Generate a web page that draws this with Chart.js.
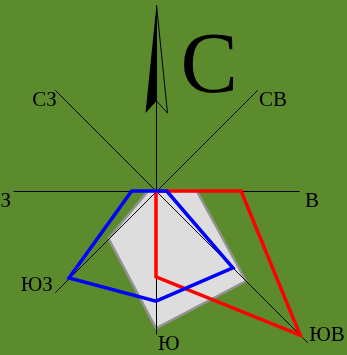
<!DOCTYPE html>
<html>
<head>
<meta charset="utf-8">
<script src="https://cdn.jsdelivr.net/npm/chart.js@4"></script>
<style>
  html, body { margin: 0; padding: 0; background: #5c8b2e; }
  canvas { display: block; }
</style>
</head>
<body>
<canvas id="roseChart" width="347" height="355"></canvas>
<script>
const directions = ["С", "СВ", "В", "ЮВ", "Ю", "ЮЗ", "З", "СЗ"];
const blueValues = [0, 0, 1.5, 15.2, 15.4, 17.2, 3.4, 0];
const redValues = [0, 0, 11.9, 28.5, 12.0, 0, 0, 0];
const grayValues = [0, 0, 5.7, 17.8, 19.2, 9.4, 1.1, 0];
const scaleMax = 20;

function axisLength(chart, i) {
  let scale = chart.scales.r;
  let R = scale.drawingArea;
  if (i === 0) return R * 1.3;
  let top = Math.max(blueValues[i], redValues[i], grayValues[i]);
  if (top <= scaleMax) return R;
  return scale.getDistanceFromCenterForValue(top) + 10;
}

// axis lines go between the gray area and the lines
const roseDecor = {
  id: "roseDecor",
  beforeDatasetDraw(chart, args) {
    if (args.index !== 1) return;
    let scale = chart.scales.r;
    let ctx = chart.ctx;
    ctx.save();
    ctx.translate(0.5, 0.5);
    ctx.strokeStyle = "#000";
    ctx.lineWidth = 1;
    directions.forEach((d, i) => {
      let p = scale.getPointPosition(i, axisLength(chart, i));
      ctx.beginPath();
      ctx.moveTo(scale.xCenter, scale.yCenter);
      ctx.lineTo(p.x, p.y);
      ctx.stroke();
    });
    ctx.restore();
  },
  afterDatasetsDraw(chart) {
    let scale = chart.scales.r;
    let ctx = chart.ctx;
    let cx = scale.xCenter + 0.5;
    let cy = scale.yCenter;
    let R = scale.drawingArea;
    ctx.save();

    // north arrow
    let tipY = cy - R * 1.3;
    let baseY = cy - R * 0.545;
    let notchY = cy - R * 0.63;
    ctx.fillStyle = "#000";
    ctx.beginPath();
    ctx.moveTo(cx, tipY);
    ctx.lineTo(cx - 11, baseY);
    ctx.lineTo(cx, notchY);
    ctx.closePath();
    ctx.fill();
    ctx.strokeStyle = "#000";
    ctx.lineWidth = 1;
    ctx.beginPath();
    ctx.moveTo(cx, tipY);
    ctx.lineTo(cx + 11, baseY);
    ctx.lineTo(cx, notchY);
    ctx.stroke();

    ctx.fillStyle = "#000";
    ctx.textBaseline = "alphabetic";
    ctx.font = "86px 'Liberation Serif'";
    ctx.textAlign = "left";
    ctx.fillText(directions[0], cx + 24, cy - 99);

    ctx.font = "21px 'Liberation Serif'";
    directions.forEach((d, i) => {
      if (i === 0) return;
      let p = scale.getPointPosition(i, axisLength(chart, i));
      let left = p.x >= scale.xCenter - 1;
      let south = i === 3 || i === 5;
      ctx.textAlign = left ? "left" : "right";
      let dx = left ? (i === 2 ? 6 : 2) : -2;
      if (i === 7) dx = 2;
      ctx.fillText(d, p.x + dx, south ? p.y - 1 : p.y + 16);
    });
    ctx.restore();
  }
};

new Chart(document.getElementById("roseChart"), {
  type: "radar",
  data: {
    labels: directions,
    datasets: [
      {
        data: blueValues,
        borderColor: "#0000ff",
        borderWidth: 3.5,
        fill: false,
        clip: false,
      },
      {
        data: redValues,
        borderColor: "#ff0000",
        borderWidth: 3.5,
        fill: false,
        clip: false,
      },
      {
        data: grayValues,
        borderColor: "#939393",
        backgroundColor: "#dddddd",
        borderWidth: 2.5,
        fill: true,
        clip: false,
      },
    ],
  },
  options: {
    responsive: false,
    animation: false,
    layout: {
      padding: { left: 13, right: 47, top: 48, bottom: 20 },
    },
    elements: {
      line: { tension: 0, borderJoinStyle: "miter" },
      point: { radius: 0, hoverRadius: 0 },
    },
    plugins: {
      legend: { display: false },
      tooltip: { enabled: false },
    },
    scales: {
      r: {
        min: 0,
        max: scaleMax,
        ticks: { display: false },
        grid: { display: false },
        angleLines: { display: false },
        pointLabels: { display: false },
      },
    },
  },
  plugins: [roseDecor],
});
</script>
</body>
</html>
